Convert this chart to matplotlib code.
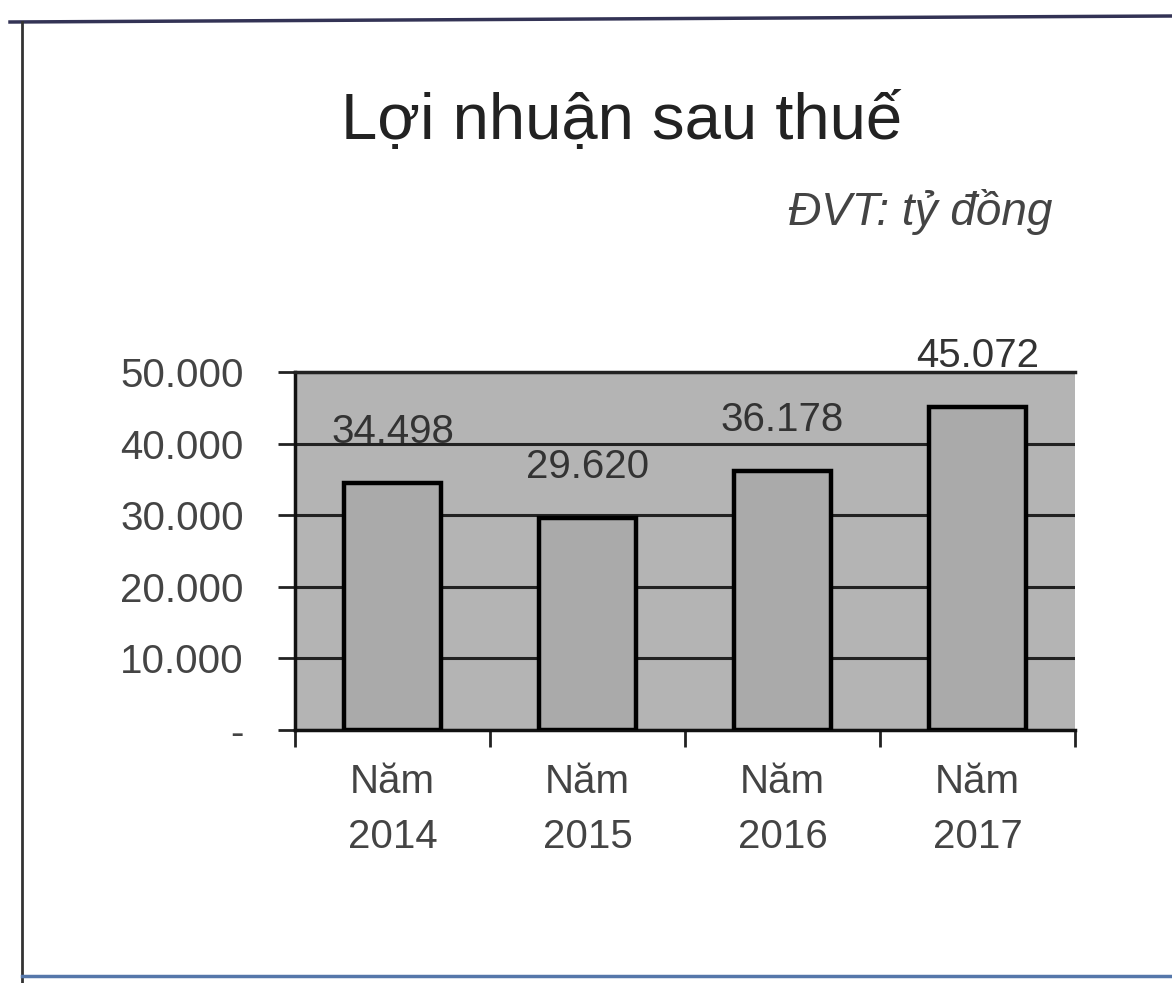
import matplotlib.pyplot as plt
from matplotlib.lines import Line2D
from matplotlib import font_manager

plt.rcParams['font.family'] = ['Liberation Sans', 'DejaVu Sans']

# the scan uses a condensed face for numbers and axis labels
names = {f.name for f in font_manager.fontManager.ttflist}
NARROW = ['Liberation Sans Narrow', 'Liberation Sans', 'DejaVu Sans']
narrow_ok = 'Liberation Sans Narrow' in names
num_size = 35 if narrow_ok else 29

# data (ty dong)
years = ['2014', '2015', '2016', '2017']
profit = [34498, 29620, 36178, 45072]
value_labels = ['34.498', '29.620', '36.178', '45.072']
y_ticks = [0, 10000, 20000, 30000, 40000, 50000]
y_tick_labels = ['-', '10.000', '20.000', '30.000', '40.000', '50.000']

W, H = 1172, 983
fig = plt.figure(figsize=(W / 100, H / 100), dpi=100)
fig.patch.set_facecolor('white')

# plot area, placed in pixels like the reference
left, right, top, bottom = 295, 1075, 372, 730
ax = fig.add_axes([left / W, 1 - bottom / H, (right - left) / W, (bottom - top) / H])
ax.set_facecolor('#b4b4b4')

x = list(range(len(years)))
ax.set_axisbelow(True)
ax.yaxis.grid(True, color='#222222', linewidth=2.2)
ax.bar(x, profit, width=0.5, color='#aaaaaa', edgecolor='black', linewidth=3.2, zorder=3)

for xi, v, lab in zip(x, profit, value_labels):
    ax.annotate(lab, (xi, v), xytext=(0, 37), textcoords='offset points',
                ha='center', va='center', fontsize=num_size, color='#333333',
                family=NARROW, annotation_clip=False)

ax.set_xlim(-0.5, len(years) - 0.5)
ax.set_ylim(0, 50000)
ax.set_yticks(y_ticks)
ax.set_yticklabels(y_tick_labels, fontsize=num_size, color='#444444', family=NARROW)
ax.tick_params(axis='y', length=12, width=2, pad=25, color='#222222')

ax.set_xticks(x)
ax.set_xticklabels(['Năm\n' + y for y in years], fontsize=num_size, color='#444444',
                   linespacing=1.55, family=NARROW)
ax.tick_params(axis='x', which='major', length=0, pad=24)
ax.set_xticks([i - 0.5 for i in range(len(years) + 1)], minor=True)
ax.tick_params(axis='x', which='minor', length=12, width=2, color='#222222')

for s in ['left', 'bottom']:
    ax.spines[s].set_linewidth(2.5)
    ax.spines[s].set_color('#111111')
ax.spines['top'].set_linewidth(2.5)
ax.spines['top'].set_color('#222222')
ax.spines['right'].set_visible(False)

fig.text(622 / W, 1 - 122 / H, 'Lợi nhuận sau thuế', ha='center', va='center',
         fontsize=47, color='#222222')
fig.text(1052 / W, 1 - 212 / H, 'ĐVT: tỷ đồng', ha='right', va='center',
         fontsize=33, style='italic', color='#444444')

# frame of the scanned page
fig.add_artist(Line2D([10 / W, 1], [1 - 22 / H, 1 - 16 / H], color='#333355', linewidth=2.5))
fig.add_artist(Line2D([22 / W, 22 / W], [1 - 22 / H, 0], color='#333333', linewidth=2))
fig.add_artist(Line2D([22 / W, 1], [1 - 976 / H, 1 - 976 / H], color='#5577aa', linewidth=2.5))

fig.savefig('out.png', dpi=100, facecolor='white')
